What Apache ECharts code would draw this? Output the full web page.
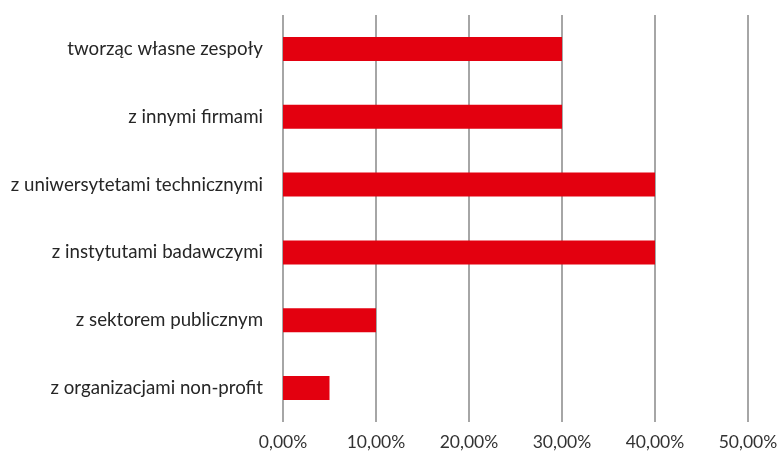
<!DOCTYPE html>
<html><head><meta charset="utf-8">
<script src="https://cdn.jsdelivr.net/npm/echarts@6/dist/echarts.min.js"></script>
<style>html,body{margin:0;padding:0;background:#fff}#c{width:781px;height:459px}</style>
</head><body><div id="c"></div>
<script>
const categories = ["tworząc własne zespoły","z innymi firmami","z uniwersytetami technicznymi","z instytutami badawczymi","z sektorem publicznym","z organizacjami non-profit"];
const values = [0.30,0.30,0.40,0.40,0.10,0.05];
const ticks = [0,0.1,0.2,0.3,0.4,0.5];
const chart = echarts.init(document.getElementById('c'));
chart.setOption({
  animation:false,
  textStyle:{fontFamily:'Lato, "Open Sans", sans-serif'},
  grid:{left:283,right:33,top:15,bottom:37,containLabel:false},
  xAxis:{type:'value',min:0,max:0.5,interval:0.1,
    axisLine:{show:false},axisTick:{show:false},
    splitLine:{show:true,lineStyle:{color:'#a6a6a6',width:2}},
    axisLabel:{color:'#333333',fontSize:17.5,margin:11,
      formatter:v=>(v*100).toFixed(2).replace('.',',')+'%'}},
  yAxis:{type:'category',data:categories,inverse:true,
    axisLine:{show:false},axisTick:{show:false},
    axisLabel:{color:'#262626',fontSize:18.7,margin:20}},
  series:[{type:'bar',data:values,barWidth:24,itemStyle:{color:'#E3000F'}}]
});
</script></body></html>
